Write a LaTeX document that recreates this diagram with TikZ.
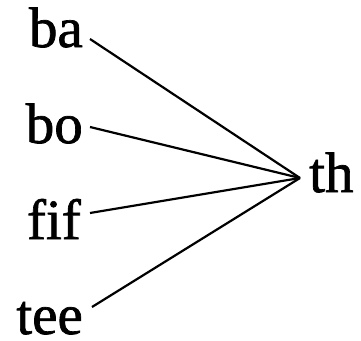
\documentclass[tikz,border=0pt]{standalone}
\usepackage{fontspec}
\setmainfont{Liberation Serif}[Ligatures=NoCommon,FakeBold=1.2]
\begin{document}
\begin{tikzpicture}[x=1pt,y=-1pt,
  lbl/.style={inner sep=0pt,font=\fontsize{57}{64}\selectfont},
  conn/.style={line width=2.2pt}]
\useasboundingbox (0,0) rectangle (361,340);
\node[lbl,anchor=base east] (ba) at (83,47) {ba};
\node[lbl,anchor=base east] (bo) at (83,143) {bo};
\node[lbl,anchor=base east] (fif) at (81,239) {fif};
\node[lbl,anchor=base east] (tee) at (83,334) {tee};
\node[lbl,anchor=base west] (th) at (309,192) {th};
\coordinate (hub) at (300,178);
\coordinate (baE) at (90,39);
\coordinate (boE) at (90,127);
\coordinate (fifE) at (90,213);
\coordinate (teeE) at (92,307);
\draw[conn] (baE) -- (hub);
\draw[conn] (boE) -- (hub);
\draw[conn] (fifE) -- (hub);
\draw[conn] (teeE) -- (hub);
\end{tikzpicture}
\end{document}
